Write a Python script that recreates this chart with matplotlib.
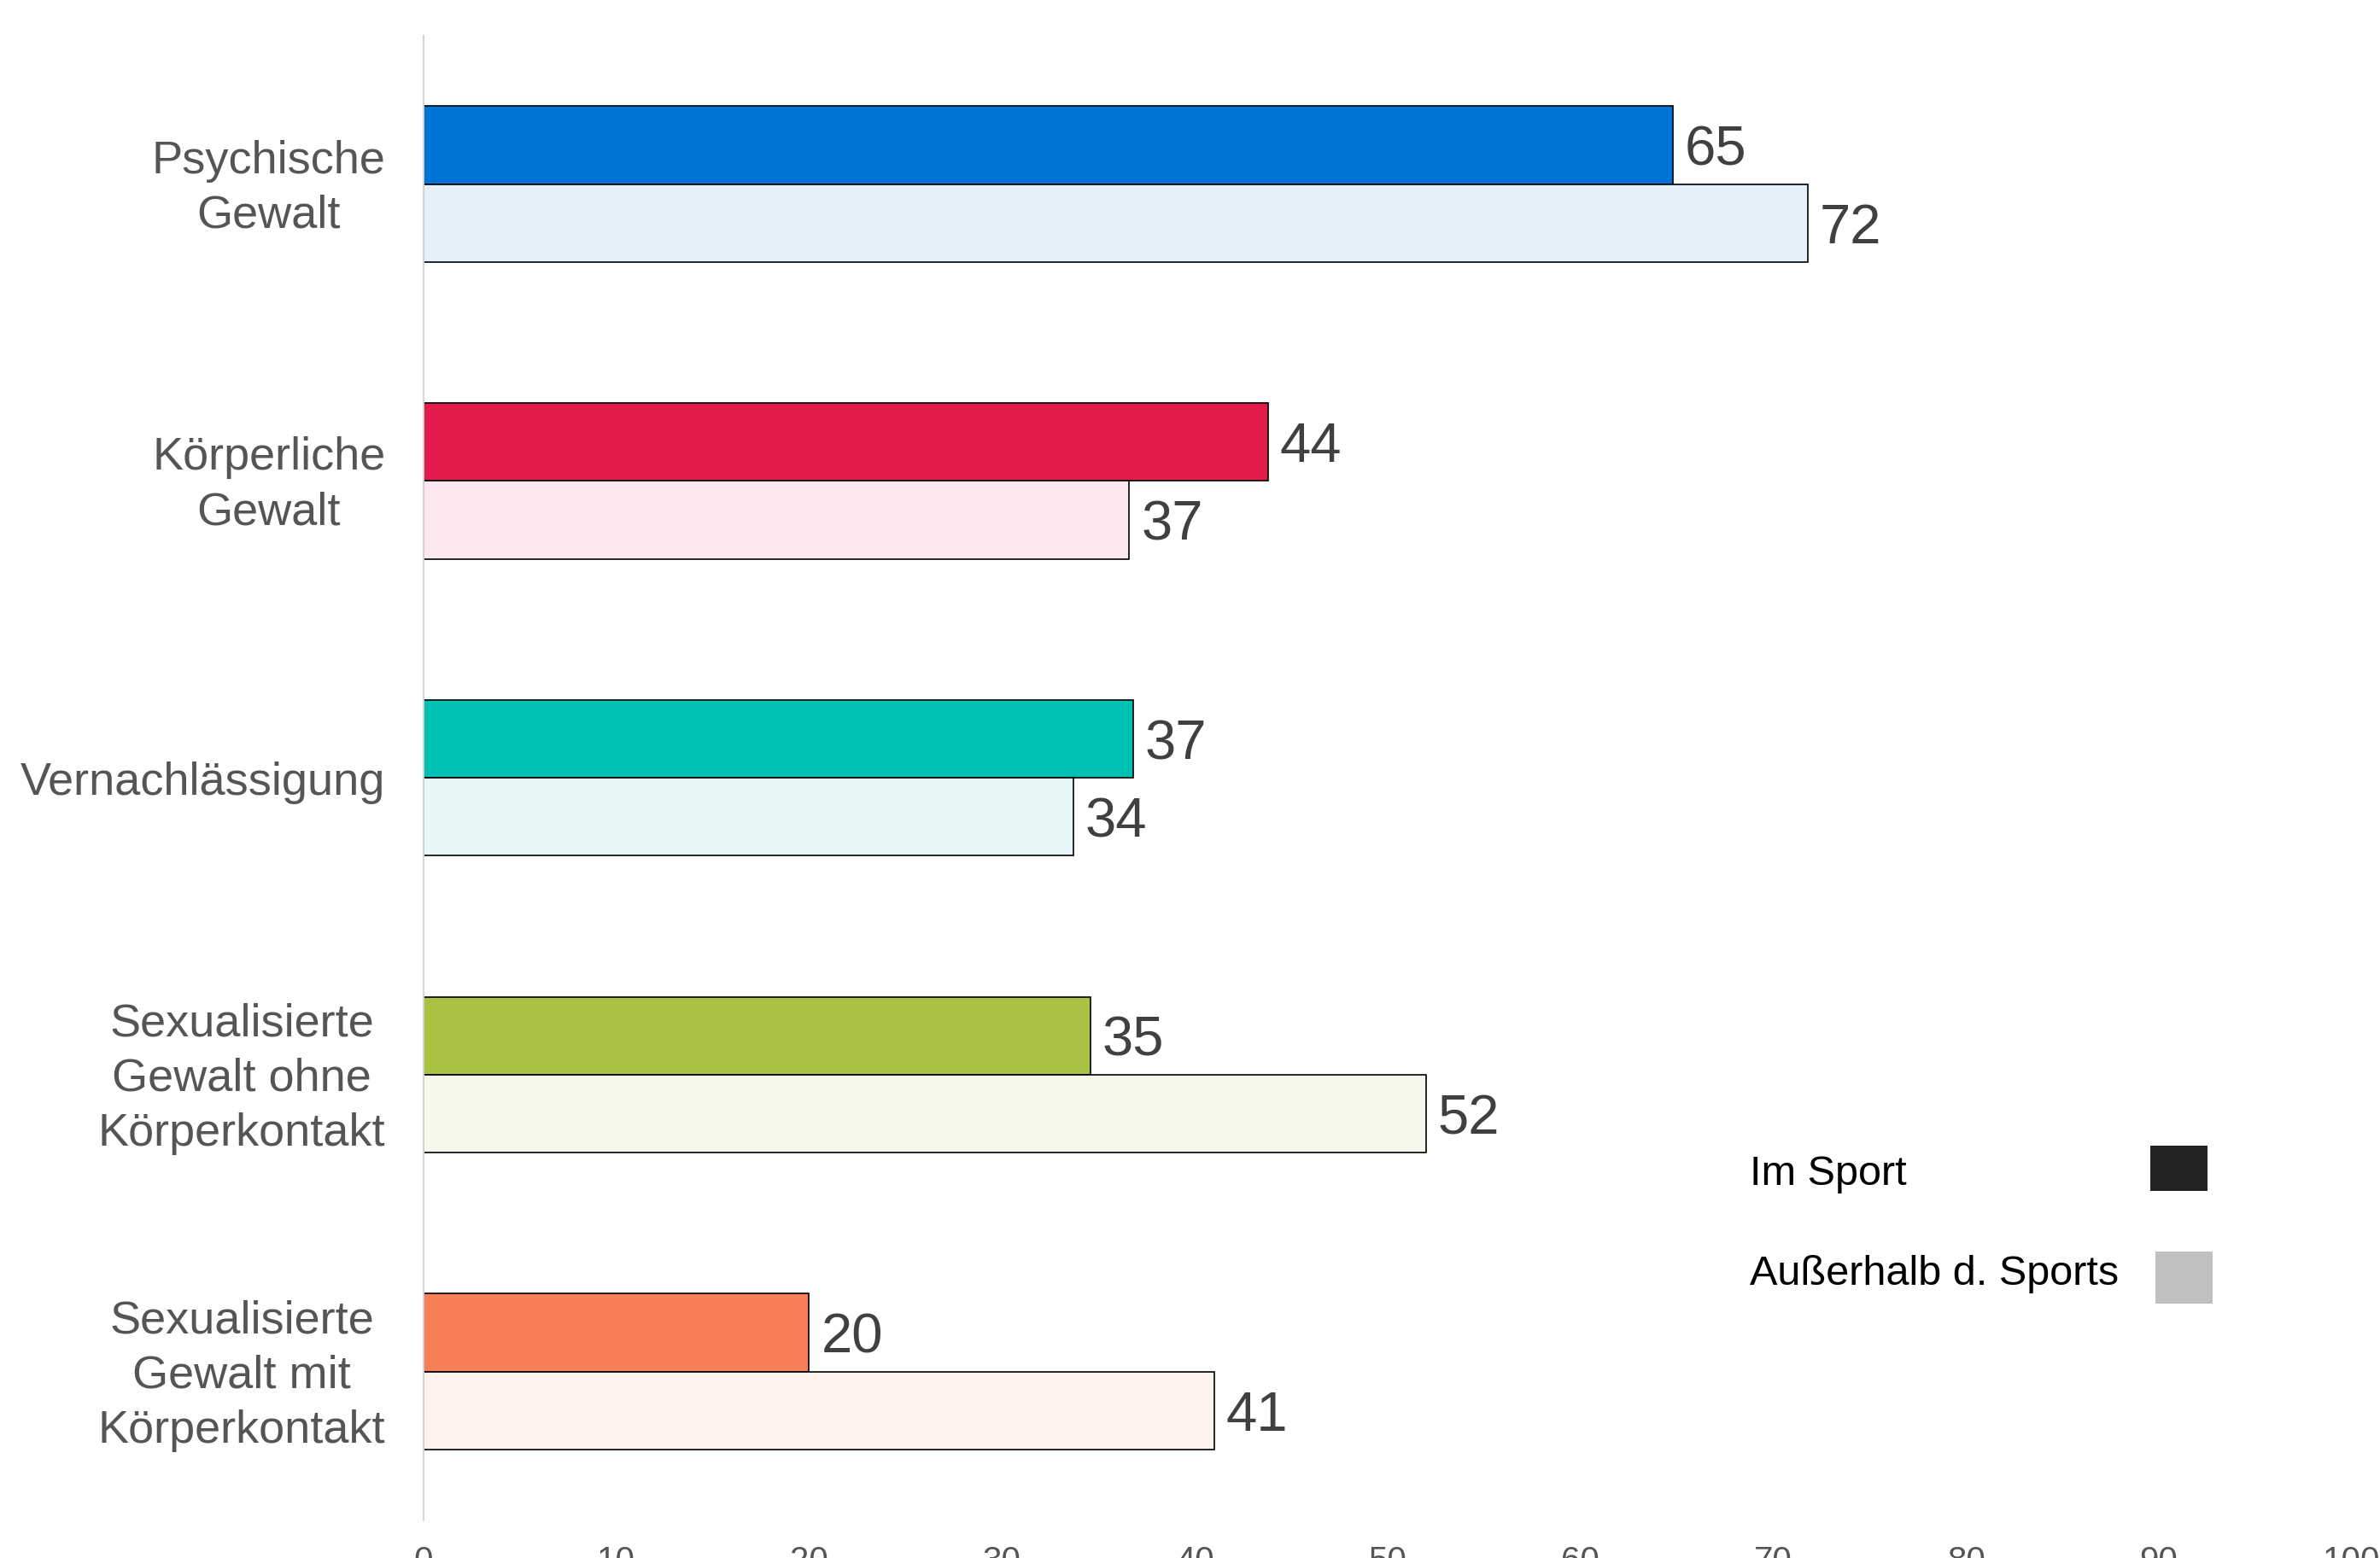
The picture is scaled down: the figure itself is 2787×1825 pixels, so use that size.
import matplotlib
matplotlib.use("Agg")
import matplotlib.pyplot as plt
from matplotlib.patches import Rectangle
from matplotlib.transforms import ScaledTranslation
import numpy as np

plt.rcParams['font.family'] = ['Liberation Sans', 'DejaVu Sans']

categories = ["Psychische\nGewalt", "Körperliche\nGewalt", "Vernachlässigung",
              "Sexualisierte\nGewalt ohne\nKörperkontakt",
              "Sexualisierte\nGewalt mit\nKörperkontakt"]
im_sport = [64.8, 43.8, 36.8, 34.6, 20.0]
ausserhalb = [71.8, 36.6, 33.7, 52.0, 41.0]
dark_colors = ["#0073D6", "#E31B4B", "#00BFB3", "#A9C241", "#F77F57"]
light_colors = ["#E6F0FA", "#FCE8EE", "#E5F7F6", "#F6F8EC", "#FDF2EE"]
legend_labels = ["Im Sport", "Außerhalb d. Sports"]
x_ticks = list(range(0, 101, 10))

W, H = 2787, 1825
fig = plt.figure(figsize=(W / 100, H / 100), dpi=100)
ax = fig.add_axes([495.8 / W, 1 - 1780.6 / H, (2753.8 - 495.8) / W, (1780.6 - 41.8) / H])

pos = np.arange(len(categories))
bh = 0.2625
b1 = ax.barh(pos - bh / 2, im_sport, height=bh, color=dark_colors,
             edgecolor="black", linewidth=1.2)
b2 = ax.barh(pos + bh / 2, ausserhalb, height=bh, color=light_colors,
             edgecolor="black", linewidth=1.2)

for bars, vals in ((b1, im_sport), (b2, ausserhalb)):
    for rect, v in zip(bars, vals):
        ax.annotate(f"{v:.0f}", xy=(rect.get_width(), rect.get_y() + rect.get_height() / 2),
                    xytext=(10, 0), textcoords="offset points",
                    ha="left", va="center_baseline", fontsize=47, color="#404040")

ax.set_xlim(0, 100)
ax.set_ylim(4.5, -0.5)
ax.set_yticks(pos)
ax.set_yticklabels([""] * len(categories))

# category labels as text, right-aligned at a fixed gap left of the axis
lab_tr_multi = ax.get_yaxis_transform() + ScaledTranslation(-0.445, -0.05, fig.dpi_scale_trans)
lab_tr_single = ax.get_yaxis_transform() + ScaledTranslation(-0.445, 0.0, fig.dpi_scale_trans)
for p, cat in zip(pos, categories):
    multi = "\n" in cat
    ax.text(0, p, cat, transform=lab_tr_multi if multi else lab_tr_single,
            ha="right", va="center" if multi else "center_baseline",
            multialignment="center", linespacing=1.36,
            fontsize=39, color="#555555")

ax.set_xticks(x_ticks)
ax.set_xticklabels([str(t) for t in x_ticks], fontsize=29, color="#555555")
ax.tick_params(axis="y", length=0)
ax.tick_params(axis="x", length=0, pad=21)

for s in ("top", "right", "bottom"):
    ax.spines[s].set_visible(False)
ax.spines["left"].set_color("#D3D3D3")
ax.spines["left"].set_linewidth(1.4)

# legend (manual)
fig.text(2049 / W, 1 - 1387.5 / H, legend_labels[0], fontsize=35, color="black",
         ha="left", va="baseline")
fig.text(2049 / W, 1 - 1505 / H, legend_labels[1], fontsize=35, color="black",
         ha="left", va="baseline")
fig.patches.append(Rectangle((2518 / W, 1 - 1394.7 / H), 67 / W, 53 / H,
                             transform=fig.transFigure, facecolor="#222222",
                             edgecolor="none"))
fig.patches.append(Rectangle((2524 / W, 1 - 1526.7 / H), 67 / W, 61 / H,
                             transform=fig.transFigure, facecolor="#C0C0C0",
                             edgecolor="none"))

fig.savefig("out.png", dpi=100, facecolor="white")
